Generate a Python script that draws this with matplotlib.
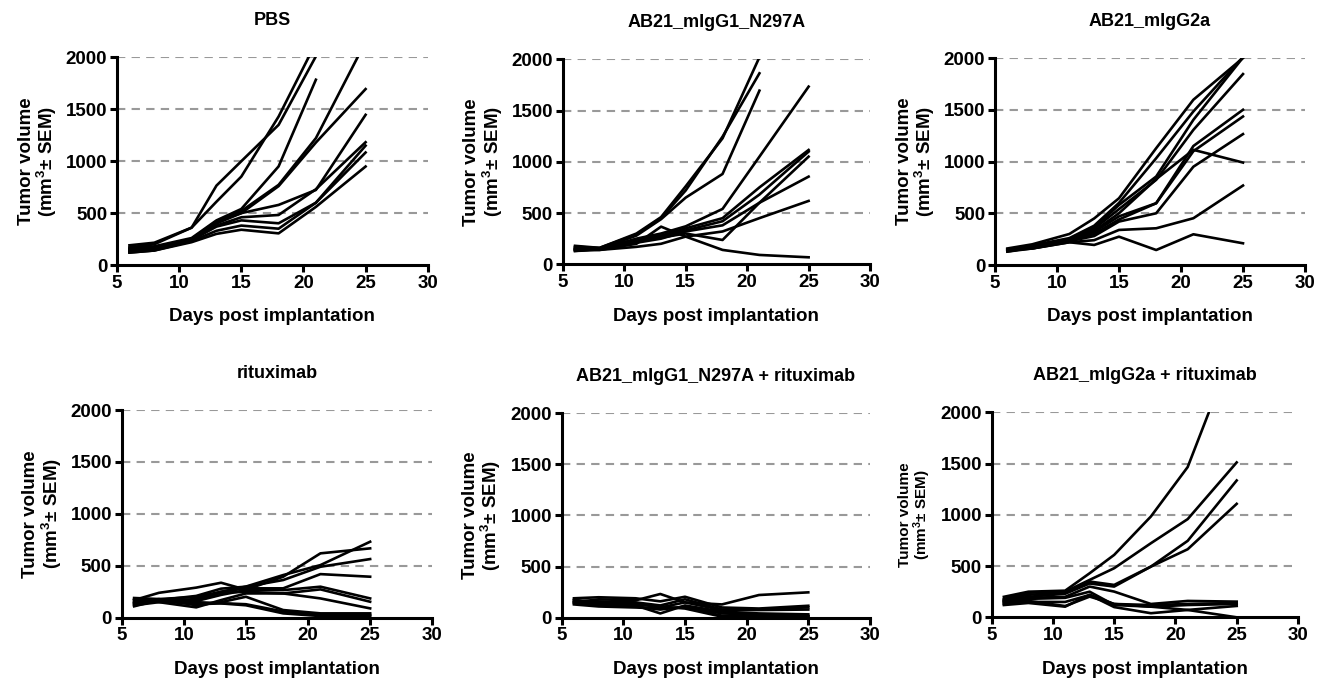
import numpy as np
import matplotlib.pyplot as plt

plt.rcParams['font.family'] = ['Liberation Sans', 'DejaVu Sans']
plt.rcParams['font.weight'] = 'bold'
plt.rcParams['mathtext.fontset'] = 'custom'
plt.rcParams['mathtext.rm'] = 'Liberation Sans:bold'
plt.rcParams['mathtext.bf'] = 'Liberation Sans:bold'
plt.rcParams['mathtext.default'] = 'bf'

days = [6, 8, 11, 13, 15, 18, 21, 25]
nan = np.nan

# tumor volumes per mouse
pbs = [
    [190, 215, 360, 765, 1000, 1350, 2010, nan],
    [170, 200, 360, 610, 852, 1430, 2140, nan],
    [160, 180, 260, 430, 540, 950, 1785, nan],
    [150, 170, 250, 420, 520, 772, 1222, 2150],
    [150, 170, 250, 420, 500, 760, 1180, 1695],
    [140, 160, 250, 400, 500, 579, 723, 1447],
    [140, 160, 240, 380, 460, 482, 730, 1183],
    [130, 150, 240, 370, 430, 402, 600, 1150],
    [120, 140, 230, 330, 380, 350, 600, 1084],
    [120, 140, 220, 300, 340, 305, 560, 949],
]
g1 = [
    [180, 160, 300, 460, 760, 1229, 2020, nan],
    [170, 160, 290, 450, 720, 1245, 1863, nan],
    [160, 150, 280, 440, 650, 881, 1694, nan],
    [150, 150, 250, 300, 370, 540, 1050, 1733],
    [150, 150, 240, 280, 350, 450, 750, 1115],
    [140, 150, 230, 270, 330, 420, 680, 1099],
    [140, 150, 220, 260, 300, 237, 600, 1050],
    [130, 150, 210, 250, 320, 380, 600, 855],
    [130, 140, 170, 200, 270, 320, 450, 618],
    [150, 140, 200, 367, 270, 140, 91, 68],
]
g2a = [
    [160, 200, 300, 450, 645, 1129, 1597, 2000],
    [150, 190, 260, 380, 600, 1032, 1484, 2010],
    [150, 180, 250, 360, 580, 855, 1403, 2005],
    [140, 180, 250, 350, 540, 823, 1306, 1845],
    [140, 170, 240, 330, 500, 830, 1113, 990],
    [150, 170, 250, 320, 470, 597, 1150, 1500],
    [130, 170, 240, 300, 440, 597, 1100, 1435],
    [130, 160, 230, 280, 420, 500, 950, 1265],
    [140, 160, 220, 240, 339, 355, 452, 768],
    [150, 160, 220, 194, 274, 145, 297, 210],
]
ritux = [
    [150, 180, 200, 250, 300, 411, 507, 732],
    [170, 240, 290, 337, 270, 395, 620, 668],
    [160, 170, 210, 280, 299, 363, 491, 565],
    [140, 160, 180, 250, 283, 283, 420, 395],
    [130, 170, 160, 220, 266, 266, 299, 186],
    [120, 150, 100, 170, 234, 234, 273, 154],
    [180, 150, 170, 240, 250, 234, 186, 90],
    [190, 180, 120, 150, 202, 74, 42, 42],
    [110, 170, 150, 140, 130, 60, 26, 26],
    [140, 160, 130, 138, 120, 42, 16, 16],
]
g1_ritux = [
    [150, 180, 170, 232, 150, 130, 222, 248],
    [190, 200, 190, 160, 205, 100, 90, 117],
    [170, 160, 150, 120, 180, 80, 82, 101],
    [160, 140, 140, 100, 150, 75, 75, 80],
    [140, 130, 120, 42, 120, 60, 42, 33],
    [180, 120, 110, 80, 110, 42, 30, 16],
    [130, 110, 100, 90, 100, 20, 20, 16],
    [150, 140, 130, 110, 90, 10, 10, 10],
]
g2a_ritux = [
    [200, 250, 260, 430, 609, 984, 1466, 2700],
    [180, 240, 250, 365, 479, 723, 958, 1511],
    [170, 220, 240, 349, 316, 495, 746, 1335],
    [160, 200, 230, 330, 300, 495, 664, 1107],
    [150, 190, 200, 300, 251, 130, 160, 153],
    [140, 180, 190, 250, 120, 104, 120, 130],
    [130, 150, 150, 218, 100, 40, 72, 111],
    [160, 160, 110, 202, 130, 104, 72, 0],
    [120, 140, 104, 220, 130, 120, 130, 140],
]

titles = ['PBS', 'AB21_mIgG1_N297A', 'AB21_mIgG2a',
          'rituximab', 'AB21_mIgG1_N297A + rituximab', 'AB21_mIgG2a + rituximab']
groups = [pbs, g1, g2a, ritux, g1_ritux, g2a_ritux]

positions = [
    [0.0880, 0.6131, 0.2336, 0.3031],
    [0.4231, 0.6142, 0.2311, 0.2993],
    [0.7481, 0.6131, 0.2331, 0.3022],
    [0.0915, 0.0982, 0.2335, 0.3032],
    [0.4223, 0.0982, 0.2318, 0.2988],
    [0.7456, 0.0988, 0.2303, 0.2993],
]

fig = plt.figure(figsize=(13.3, 6.85), dpi=100)

for i in range(6):
    ax = fig.add_axes(positions[i])
    for y in [500, 1000, 1500, 2000]:
        ax.axhline(y, color='#999999', lw=1.5, ls=(0, (4, 3)), zorder=1)
    for mouse in groups[i]:
        ax.plot(days, mouse, color='black', lw=1.9, zorder=3)
    ax.set_xlim(5, 30)
    ax.set_ylim(0, 2000)
    ax.set_xticks([5, 10, 15, 20, 25, 30])
    ax.set_yticks([0, 500, 1000, 1500, 2000])
    ax.spines['top'].set_visible(False)
    ax.spines['right'].set_visible(False)
    ax.spines['left'].set_linewidth(2.2)
    ax.spines['bottom'].set_linewidth(2.2)
    ax.tick_params(width=2.2, length=5, labelsize=13.5, pad=2)
    for lab in ax.get_xticklabels() + ax.get_yticklabels():
        lab.set_fontweight('bold')
    ax.set_title(titles[i], fontsize=13, fontweight='bold', pad=23)
    ax.set_xlabel('Days post implantation', fontsize=13.5, fontweight='bold', labelpad=12)
    ysize = 13.5 if i < 5 else 11
    ax.set_ylabel('Tumor volume\n(mm$^3$± SEM)', fontsize=ysize, fontweight='bold',
                  linespacing=1.0, labelpad=5)

fig.savefig('out.png', dpi=100)
